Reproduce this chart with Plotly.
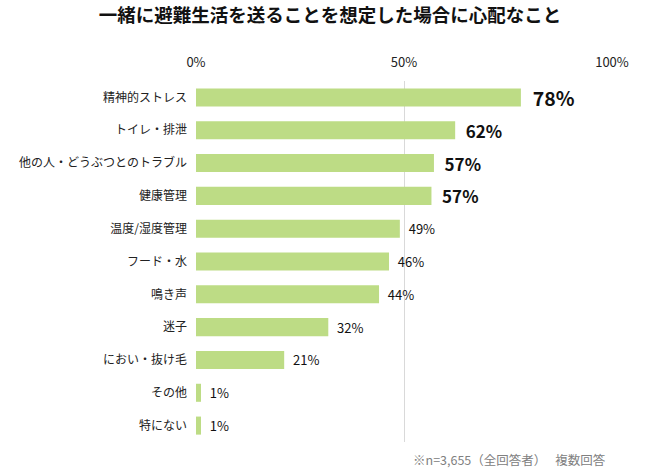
import plotly.graph_objects as go

# Items and shares (%), top to bottom
categories = [
    "精神的ストレス", "トイレ・排泄", "他の人・どうぶつとのトラブル", "健康管理",
    "温度/湿度管理", "フード・水", "鳴き声", "迷子", "におい・抜け毛", "その他", "特にない",
]
values = [78.1, 62.3, 57.2, 56.6, 49.0, 46.4, 44.0, 31.8, 21.2, 1.2, 1.2]
label_sizes = [19.5, 17, 17, 17, 13, 13, 13, 13, 13, 13, 13]
highlight = 4  # first N labels drawn bold
tick_vals = [0, 50, 100]
tick_text = ["0%", "50%", "100%"]

font_jp = "Noto Sans CJK JP"

labels = []
for i, v in enumerate(values):
    if i < highlight:
        labels.append(f"  <b>{v:.0f}%</b>")
    else:
        labels.append(f"  {v:.0f}%")

fig = go.Figure()

fig.add_trace(
    go.Bar(
        x=values,
        y=categories,
        orientation="h",
        marker=dict(color="#BDDC85", line=dict(width=0)),
        width=0.55,
        text=labels,
        textposition="outside",
        constraintext="none",
        cliponaxis=False,
        textfont=dict(family=font_jp, size=label_sizes, color="#111111"),
        hoverinfo="skip",
    )
)

fig.update_layout(
    width=660,
    height=475,
    margin=dict(l=196, r=48, t=81, b=33),
    paper_bgcolor="white",
    plot_bgcolor="white",
    showlegend=False,
    title=dict(
        text="<b>一緒に避難生活を送ることを想定した場合に心配なこと</b>",
        x=0.5,
        xanchor="center",
        y=0.968,
        yanchor="middle",
        font=dict(family=font_jp, size=18.5, color="#111111"),
    ),
    font=dict(family=font_jp, color="#222222"),
)

fig.update_xaxes(
    range=[0, 100],
    side="top",
    tickvals=tick_vals,
    ticktext=tick_text,
    tickfont=dict(size=13, color="#222222"),
    showgrid=True,
    gridcolor="#D9D9D9",
    gridwidth=1,
    zeroline=False,
    showline=False,
    ticks="",
    ticklabelstandoff=10,
    automargin=False,
    fixedrange=True,
)

fig.update_yaxes(
    categoryorder="array",
    categoryarray=categories,
    autorange="reversed",
    tickfont=dict(size=12, color="#222222"),
    showgrid=False,
    zeroline=False,
    showline=False,
    ticks="",
    ticklabelstandoff=8,
    automargin=False,
    fixedrange=True,
)

fig.add_annotation(
    text="※n=3,655（全回答者）　 複数回答",
    xref="paper",
    yref="paper",
    x=0.99,
    y=0,
    xanchor="right",
    yanchor="top",
    yshift=-6,
    showarrow=False,
    font=dict(family=font_jp, size=12.5, color="#808080"),
)

# drop the default 8px body margin so the figure fills the window exactly
fig.write_html(
    "out.html",
    config={"displayModeBar": False},
    post_script="document.body.style.margin = '0';",
)
